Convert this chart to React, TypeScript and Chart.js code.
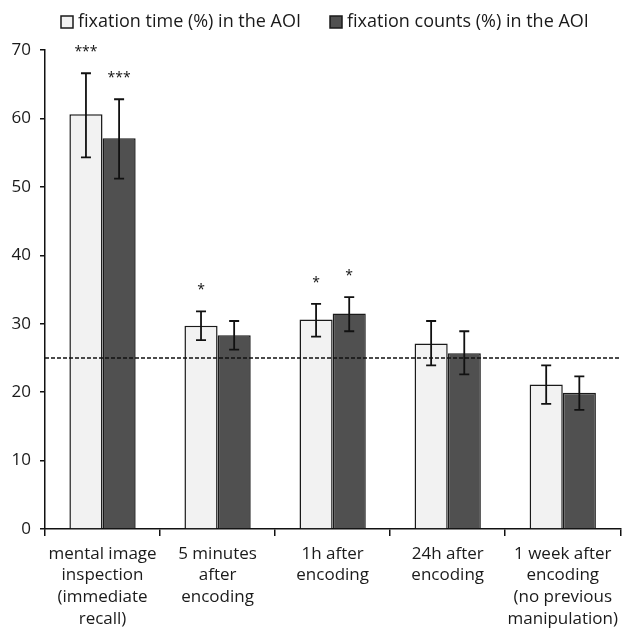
import React, { useEffect, useRef } from "react";
import { Chart, registerables } from "chart.js";

Chart.register(...registerables);

const categories: string[][] = [
  ["mental image", "inspection", "(immediate", "recall)"],
  ["5 minutes", "after", "encoding"],
  ["1h after", "encoding"],
  ["24h after", "encoding"],
  ["1 week after", "encoding", "(no previous", "manipulation)"],
];
const seriesNames = ["fixation time (%) in the AOI", "fixation counts (%) in the AOI"];
const seriesColors = ["#f2f2f2", "#505050"];
const timeValues = [60.6, 29.7, 30.6, 27.1, 21.1];
const timeErrLow = [54.3, 27.6, 28.1, 23.9, 18.3];
const timeErrHigh = [66.6, 31.8, 32.9, 30.4, 23.9];
const countValues = [57.1, 28.3, 31.5, 25.7, 19.9];
const countErrLow = [51.2, 26.2, 28.9, 22.6, 17.4];
const countErrHigh = [62.8, 30.4, 33.9, 28.9, 22.3];
const timeStars = ["***", "*", "*", "", ""];
const countStars = ["***", "", "*", "", ""];
const chanceLevel = 25;
const yTicks = [0, 10, 20, 30, 40, 50, 60, 70];

const FONT = "'Open Sans', 'DejaVu Sans', sans-serif";

const overlayPlugin = {
  id: "overlay",
  afterDatasetsDraw(chart: any) {
    const ctx = chart.ctx;
    const y = chart.scales.y;
    const area = chart.chartArea;
    ctx.save();
    // dashed chance line
    ctx.strokeStyle = "#111";
    ctx.lineWidth = 1.5;
    ctx.setLineDash([4, 2]);
    const yc = y.getPixelForValue(chanceLevel);
    ctx.beginPath();
    ctx.moveTo(area.left, yc);
    ctx.lineTo(area.right, yc);
    ctx.stroke();
    ctx.setLineDash([]);
    const errs = [
      [timeErrLow, timeErrHigh, timeStars],
      [countErrLow, countErrHigh, countStars],
    ];
    chart.data.datasets.forEach((_ds: any, di: number) => {
      const meta = chart.getDatasetMeta(di);
      const [lo, hi, stars] = errs[di] as any;
      meta.data.forEach((bar: any, i: number) => {
        const x = bar.x;
        const yl = y.getPixelForValue(lo[i]);
        const yh = y.getPixelForValue(hi[i]);
        ctx.strokeStyle = "#111";
        ctx.lineWidth = 1.8;
        ctx.beginPath();
        ctx.moveTo(x, yl);
        ctx.lineTo(x, yh);
        ctx.moveTo(x - 5, yl);
        ctx.lineTo(x + 5, yl);
        ctx.moveTo(x - 5, yh);
        ctx.lineTo(x + 5, yh);
        ctx.stroke();
        if (stars[i]) {
          ctx.fillStyle = "#111";
          ctx.font = `14px ${FONT}`;
          ctx.textAlign = "center";
          ctx.textBaseline = "middle";
          ctx.fillText(stars[i], x, yh - 21);
        }
      });
    });
    ctx.restore();
  },
  afterDraw(chart: any) {
    // legend
    const ctx = chart.ctx;
    ctx.save();
    ctx.font = `18px ${FONT}`;
    ctx.textBaseline = "middle";
    ctx.textAlign = "left";
    let x = 61;
    const yMid = 22;
    seriesNames.forEach((name, i) => {
      ctx.fillStyle = seriesColors[i];
      ctx.strokeStyle = "#1a1a1a";
      ctx.lineWidth = 1.5;
      ctx.fillRect(x, yMid - 6, 12, 12);
      ctx.strokeRect(x, yMid - 6, 12, 12);
      x += 17;
      ctx.fillStyle = "#1a1a1a";
      ctx.fillText(name, x, yMid);
      x += ctx.measureText(name).width + 29;
    });
    ctx.restore();
  },
};

export default function App() {
  const ref = useRef<HTMLCanvasElement | null>(null);
  useEffect(() => {
    document.body.style.margin = "0";
    const chart = new Chart(ref.current as HTMLCanvasElement, {
      type: "bar",
      data: {
        labels: categories as any,
        datasets: [
          {
            label: seriesNames[0],
            data: timeValues,
            backgroundColor: seriesColors[0],
            borderColor: "#1a1a1a",
            borderWidth: 1.5,
            barPercentage: 1,
            categoryPercentage: 0.576,
          },
          {
            label: seriesNames[1],
            data: countValues,
            backgroundColor: seriesColors[1],
            borderColor: "#1a1a1a",
            borderWidth: 1.5,
            barPercentage: 1,
            categoryPercentage: 0.576,
          },
        ],
      },
      options: {
        animation: false,
        responsive: false,
        maintainAspectRatio: false,
        layout: { padding: { top: 50, left: 0, right: 0, bottom: 0 } },
        plugins: {
          legend: { display: false },
          tooltip: { enabled: false },
        },
        scales: {
          x: {
            grid: {
              display: true,
              drawOnChartArea: false,
              offset: true,
              tickLength: 7,
              color: "#111",
              lineWidth: 1.5,
            },
            border: { display: true, color: "#111", width: 1.5 },
            ticks: {
              color: "#1a1a1a",
              font: { family: FONT, size: 17, lineHeight: 1.28 },
              maxRotation: 0,
              autoSkip: false,
              padding: 7,
            },
            afterFit: (s: any) => {
              s.height = 100;
            },
          },
          y: {
            min: 0,
            max: 70,
            afterBuildTicks: (s: any) => {
              s.ticks = yTicks.map((v) => ({ value: v }));
            },
            grid: {
              display: true,
              drawOnChartArea: false,
              tickLength: 5,
              color: "#111",
              lineWidth: 1.5,
            },
            border: { display: true, color: "#111", width: 1.5 },
            ticks: {
              color: "#1a1a1a",
              font: { family: FONT, size: 17 },
              padding: 9,
            },
            afterFit: (s: any) => {
              s.width = 45;
            },
          },
        },
      },
      plugins: [overlayPlugin],
    });
    return () => chart.destroy();
  }, []);
  return (
    <div style={{ position: "absolute", left: 0, top: 0, width: 625, height: 629 }}>
      <canvas ref={ref} width={625} height={629} />
    </div>
  );
}
